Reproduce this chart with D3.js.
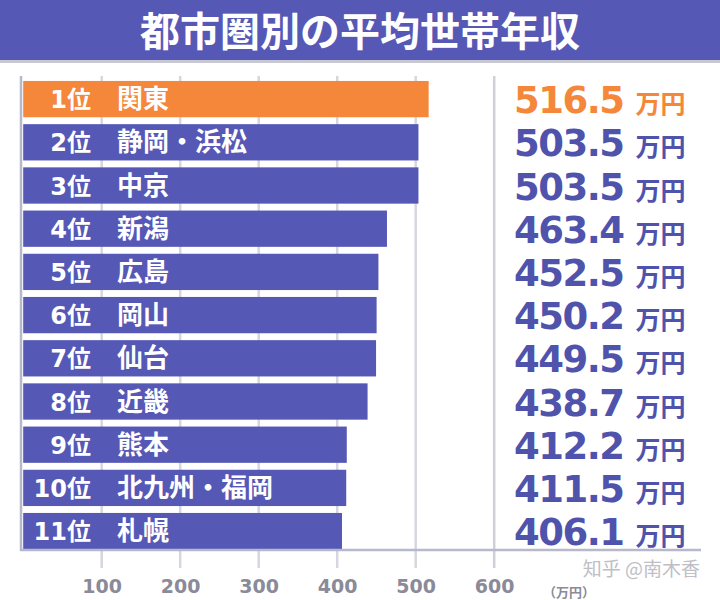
<!DOCTYPE html>
<html>
<head>
<meta charset="utf-8">
<script src="https://cdn.jsdelivr.net/npm/d3@7"></script>
<style>
  body { margin: 0; background: #fff; }
  svg { display: block; }
</style>
</head>
<body>
<div id="chart"></div>
<script>
// data
const ranks = ["1位", "2位", "3位", "4位", "5位", "6位", "7位", "8位", "9位", "10位", "11位"];
const regions = ["関東", "静岡・浜松", "中京", "新潟", "広島", "岡山", "仙台", "近畿", "熊本", "北九州・福岡", "札幌"];
const incomes = [516.5, 503.5, 503.5, 463.4, 452.5, 450.2, 449.5, 438.7, 412.2, 411.5, 406.1];
const ticks = [100, 200, 300, 400, 500, 600];

const width = 720, height = 600;
const blue = "#5658b6", orange = "#f5873a";
const jp = "'Noto Sans CJK JP', 'Noto Sans', sans-serif";
const num = "'DejaVu Sans', 'Noto Sans CJK JP', sans-serif";

const svg = d3.select("#chart").append("svg")
  .attr("width", width)
  .attr("height", height);

// title band
svg.append("rect").attr("x", 0).attr("y", 60).attr("width", width).attr("height", 3)
  .attr("fill", "#c8c8d4");
svg.append("rect").attr("x", 0).attr("y", 0).attr("width", width).attr("height", 60)
  .attr("fill", blue);
svg.append("text")
  .attr("x", width / 2).attr("y", 46)
  .attr("text-anchor", "middle")
  .attr("fill", "#fff")
  .style("font-family", jp).style("font-weight", 700).style("font-size", "40px")
  .text("都市圏別の平均世帯年収");

var x = d3.scaleLinear().domain([0, 600]).range([23.2, 494.2]);
var y = d3.scaleBand().domain(ranks).range([77.5, 552.7])
  .paddingInner(0.16).paddingOuter(0.08);

const axisY = 550;

// grid lines (run behind the bars and a bit under the axis)
svg.selectAll(".grid")
  .data(ticks)
  .enter().append("line")
  .attr("class", "grid")
  .attr("x1", d => x(d)).attr("x2", d => x(d))
  .attr("y1", 76).attr("y2", 568)
  .attr("stroke", d => d === 600 ? "#cfd0dc" : "#d6d6e0")
  .attr("stroke-width", 2.5);

// bars
svg.selectAll(".bar")
  .data(incomes)
  .enter().append("rect")
  .attr("class", "bar")
  .attr("x", x(0))
  .attr("y", (d, i) => y(ranks[i]))
  .attr("width", d => x(d) - x(0))
  .attr("height", y.bandwidth())
  .attr("fill", (d, i) => i === 0 ? orange : blue);

// axis lines
svg.append("line").attr("x1", 21).attr("x2", 21).attr("y1", 76).attr("y2", axisY + 1)
  .attr("stroke", "#b6b8cc").attr("stroke-width", 2.5);
svg.append("line").attr("x1", 20).attr("x2", 701).attr("y1", axisY).attr("y2", axisY)
  .attr("stroke", "#b6b8cc").attr("stroke-width", 2.5);

// labels inside bars
svg.selectAll(".rank")
  .data(ranks)
  .enter().append("text")
  .attr("class", "rank")
  .attr("x", 91)
  .attr("y", d => y(d) + y.bandwidth() / 2 + 9)
  .attr("text-anchor", "end")
  .attr("fill", "#fff")
  .style("font-family", num).style("font-weight", 700).style("font-size", "24px")
  .text(d => d);

svg.selectAll(".region")
  .data(regions)
  .enter().append("text")
  .attr("class", "region")
  .attr("x", 117)
  .attr("y", (d, i) => y(ranks[i]) + y.bandwidth() / 2 + 9)
  .attr("fill", "#fff")
  .style("font-family", jp).style("font-weight", 700).style("font-size", "26px")
  .text(d => d);

// value labels on the right
let vals = svg.selectAll(".value")
  .data(incomes)
  .enter().append("text")
  .attr("class", "value")
  .attr("x", 514)
  .attr("y", (d, i) => y(ranks[i]) + y.bandwidth() / 2 + 14)
  .attr("fill", (d, i) => i === 0 ? orange : "#4f53ab");
vals.append("tspan")
  .style("font-family", num).style("font-weight", 700).style("font-size", "37px")
  .style("letter-spacing", "-1.5px")
  .text(d => d.toFixed(1));
vals.append("tspan")
  .attr("dx", 12)
  .style("font-family", jp).style("font-weight", 700).style("font-size", "25px")
  .text("万円");

// tick labels
const xAxis = d3.axisBottom(x).tickValues(ticks).tickSize(0).tickPadding(0);
let gx = svg.append("g")
  .attr("transform", "translate(0," + 575 + ")")
  .call(xAxis);
gx.select(".domain").remove();
gx.selectAll("text")
  .attr("dy", 0).attr("y", 18)
  .attr("fill", "#8a8a98")
  .style("font-family", num).style("font-weight", 700).style("font-size", "19px");

svg.append("text")
  .attr("x", 543).attr("y", 597)
  .attr("fill", "#8a8a98")
  .style("font-family", jp).style("font-weight", 700).style("font-size", "13px")
  .text("（万円）");

// watermark
svg.append("text")
  .attr("x", 700).attr("y", 576)
  .attr("text-anchor", "end")
  .attr("fill", "#b4b4bc")
  .attr("opacity", 0.85)
  .style("font-family", jp).style("font-size", "19px")
  .text("知乎 @南木香");
</script>
</body>
</html>
